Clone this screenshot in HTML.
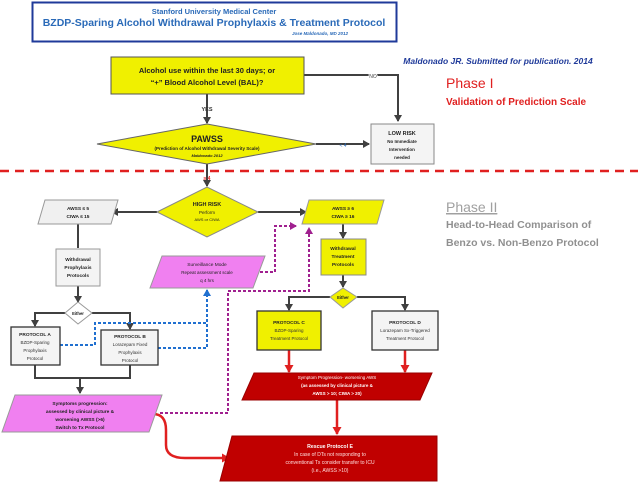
<!DOCTYPE html>
<html><head><meta charset="utf-8"><style>
html,body{margin:0;padding:0;background:#fff;}
svg{display:block;font-family:"Liberation Sans",sans-serif;}
.t{font-weight:bold;text-anchor:middle;}
</style></head><body>
<svg width="638" height="483" viewBox="0 0 638 483" xmlns="http://www.w3.org/2000/svg">
<defs>
<marker id="ag" markerWidth="8" markerHeight="8" refX="6" refY="4" orient="auto" markerUnits="userSpaceOnUse"><path d="M0,0 L7,4 L0,8 z" fill="#404040"/></marker>
<marker id="ar" markerWidth="9" markerHeight="9" refX="7" refY="4.5" orient="auto" markerUnits="userSpaceOnUse"><path d="M0,0 L8,4.5 L0,9 z" fill="#e02020"/></marker>
<marker id="ab" markerWidth="8" markerHeight="8" refX="6" refY="4" orient="auto" markerUnits="userSpaceOnUse"><path d="M0,0 L7,4 L0,8 z" fill="#2070d0"/></marker>
<marker id="ap" markerWidth="8" markerHeight="8" refX="6" refY="4" orient="auto" markerUnits="userSpaceOnUse"><path d="M0,0 L7,4 L0,8 z" fill="#a0208f"/></marker>
</defs>
<!-- header -->
<rect x="32.5" y="2.5" width="364" height="39" fill="#fff" stroke="#1f3a9a" stroke-width="2"/>
<text x="214" y="14" class="t" font-size="7.5" fill="#2a6ab8">Stanford University Medical Center</text>
<text x="214" y="26" class="t" font-size="10.5" fill="#2a6ab8">BZDP-Sparing Alcohol Withdrawal Prophylaxis &amp; Treatment Protocol</text>
<text x="320" y="35" class="t" font-size="4.5" fill="#2a6ab8" font-style="italic">Jose Maldonado, MD 2012</text>
<text x="498" y="64" class="t" font-size="8.5" fill="#1f3a9a" font-style="italic">Maldonado JR. Submitted for publication. 2014</text>
<text x="446" y="88" font-size="14" fill="#e02020">Phase I</text>
<text x="446" y="105" font-size="10" fill="#e02020" font-weight="bold">Validation of Prediction Scale</text>
<text x="446" y="212" font-size="14" fill="#a0a0a0" text-decoration="underline">Phase II</text>
<line x1="446" y1="214" x2="497" y2="214" stroke="#a0a0a0" stroke-width="1"/>
<text x="446" y="228" font-size="10.5" fill="#909090" font-weight="bold">Head-to-Head Comparison of</text>
<text x="446" y="246" font-size="10.5" fill="#909090" font-weight="bold">Benzo vs. Non-Benzo Protocol</text>
<!-- red dashed -->
<line x1="0" y1="171" x2="638" y2="171" stroke="#e02020" stroke-width="2.5" stroke-dasharray="9,6"/>
<!-- gray lines -->
<g stroke="#404040" stroke-width="2" fill="none">
<polyline points="304,75 398,75 398,121" marker-end="url(#ag)"/>
<line x1="207" y1="94" x2="207" y2="123" marker-end="url(#ag)"/>
<line x1="316" y1="144" x2="369" y2="144" marker-end="url(#ag)"/>
<line x1="207" y1="164" x2="207" y2="186" marker-end="url(#ag)"/>
<line x1="157" y1="212" x2="112" y2="212" marker-end="url(#ag)"/>
<line x1="258" y1="212" x2="306" y2="212" marker-end="url(#ag)"/>
<line x1="78" y1="224" x2="78" y2="248"/>
<line x1="78" y1="286" x2="78" y2="302" marker-end="url(#ag)"/>
<polyline points="65,313 35,313 35,326" marker-end="url(#ag)"/>
<polyline points="92,313 130,313 130,329" marker-end="url(#ag)"/>
<polyline points="35,365 35,378 130,378 130,365"/>
<line x1="80" y1="378" x2="80" y2="393" marker-end="url(#ag)"/>
<line x1="343" y1="224" x2="343" y2="238" marker-end="url(#ag)"/>
<line x1="343" y1="275" x2="343" y2="287" marker-end="url(#ag)"/>
<polyline points="330,297 289,297 289,310" marker-end="url(#ag)"/>
<polyline points="357,297 405,297 405,310" marker-end="url(#ag)"/>
</g>
<text x="373" y="78" font-size="5" fill="#404040" text-anchor="middle" style="paint-order:stroke" stroke="#fff" stroke-width="2">NO</text>
<text x="207" y="111" class="t" font-size="5.5" fill="#333">YES</text>
<text x="343" y="147" font-size="5" fill="#2a6ab8" text-anchor="middle">&lt; 4</text>
<text x="207" y="180" class="t" font-size="5" fill="#e02020">≥ 4</text>
<!-- red arrows -->
<g stroke="#e02020" stroke-width="2.5" fill="none">
<line x1="289" y1="350" x2="289" y2="372" marker-end="url(#ar)"/>
<line x1="405" y1="350" x2="405" y2="372" marker-end="url(#ar)"/>
<line x1="337" y1="400" x2="337" y2="434" marker-end="url(#ar)"/>
<path d="M153,414 Q166,414 166,430 L166,445 Q166,458 185,458 L229,458" marker-end="url(#ar)"/>
</g>
<!-- blue dotted -->
<g stroke="#2070d0" stroke-width="2" fill="none" stroke-dasharray="3,2">
<polyline points="60,345 95,345 95,323 207,323 207,290" marker-end="url(#ab)"/>
<polyline points="158,348 207,348 207,323"/>
</g>
<!-- purple dotted -->
<g stroke="#a0208f" stroke-width="2" fill="none" stroke-dasharray="3,2">
<polyline points="260,272 275,272 275,226 296,226" marker-end="url(#ap)"/>
<polyline points="160,413 228,413 228,291 309,291 309,228" marker-end="url(#ap)"/>
</g>
<!-- shapes -->
<rect x="111" y="57" width="193" height="37" fill="#f0f000" stroke="#555" stroke-width="1"/>
<text x="207" y="73" class="t" font-size="7.5" fill="#222">Alcohol use within the last 30 days; or</text>
<text x="207" y="85" class="t" font-size="7.5" fill="#222">“+” Blood Alcohol Level (BAL)?</text>
<polygon points="97,144 207,124 316,144 207,164" fill="#f0f000" stroke="#666"/>
<text x="207" y="142" class="t" font-size="9" fill="#222">PAWSS</text>
<text x="207" y="150" class="t" font-size="4.5" fill="#222">(Prediction of Alcohol Withdrawal Severity Scale)</text>
<text x="207" y="157" class="t" font-size="4" fill="#222" font-style="italic">Maldonado 2012</text>
<rect x="371" y="124" width="63" height="40" fill="#f4f4f4" stroke="#888"/>
<text x="402" y="135" class="t" font-size="5.5" fill="#222">LOW RISK</text>
<text x="402" y="143" class="t" font-size="4.5" fill="#222">No Immediate</text>
<text x="402" y="151" class="t" font-size="4.5" fill="#222">Intervention</text>
<text x="402" y="159" class="t" font-size="4.5" fill="#222">needed</text>
<polygon points="157,212 207,187 258,212 207,237" fill="#f0f000" stroke="#888"/>
<text x="207" y="206" class="t" font-size="5.5" fill="#222">HIGH RISK</text>
<text x="207" y="214" font-size="4.5" fill="#222" text-anchor="middle">Perform</text>
<text x="207" y="221" font-size="4" fill="#222" text-anchor="middle">AWS or CIWA</text>
<polygon points="45,200 118,200 111,224 38,224" fill="#f0f0f0" stroke="#999"/>
<text x="78" y="210" class="t" font-size="4.8" fill="#222">AWSS ≤ 5</text>
<text x="78" y="218" class="t" font-size="4.8" fill="#222">CIWA ≤ 15</text>
<polygon points="309,200 384,200 377,224 302,224" fill="#f0f000" stroke="#999"/>
<text x="343" y="210" class="t" font-size="4.8" fill="#222">AWSS ≥ 6</text>
<text x="343" y="218" class="t" font-size="4.8" fill="#222">CIWA ≥ 16</text>
<rect x="56" y="249" width="44" height="37" fill="#f4f4f4" stroke="#999"/>
<text x="78" y="261" class="t" font-size="4.8" fill="#222">Withdrawal</text>
<text x="78" y="269" class="t" font-size="4.8" fill="#222">Prophylaxis</text>
<text x="78" y="277" class="t" font-size="4.8" fill="#222">Protocols</text>
<polygon points="65,313 78,302 92,313 78,324" fill="#fff" stroke="#999"/>
<text x="78" y="315" class="t" font-size="4.2" fill="#222">Either</text>
<rect x="11" y="327" width="49" height="38" fill="#f4f4f4" stroke="#333" stroke-width="1.3"/>
<text x="35" y="336" class="t" font-size="4.8" fill="#222">PROTOCOL A</text>
<text x="35" y="344" font-size="4.5" fill="#333" text-anchor="middle">BZDP-Sparing</text>
<text x="35" y="352" font-size="4.5" fill="#333" text-anchor="middle">Prophylaxis</text>
<text x="35" y="360" font-size="4.5" fill="#333" text-anchor="middle">Protocol</text>
<rect x="101" y="330" width="57" height="35" fill="#f4f4f4" stroke="#333" stroke-width="1.3"/>
<text x="130" y="338" class="t" font-size="4.8" fill="#222">PROTOCOL B</text>
<text x="130" y="346" font-size="4.5" fill="#333" text-anchor="middle">Lorazepam Fixed</text>
<text x="130" y="354" font-size="4.5" fill="#333" text-anchor="middle">Prophylaxis</text>
<text x="130" y="362" font-size="4.5" fill="#333" text-anchor="middle">Protocol</text>
<polygon points="162,256 265,256 253,288 150,288" fill="#f080f0" stroke="#999"/>
<text x="207" y="266" font-size="4.8" fill="#222" text-anchor="middle">Surveillance Mode</text>
<text x="207" y="274" font-size="4.5" fill="#222" text-anchor="middle">Repeat assessment scale</text>
<text x="207" y="282" font-size="4.5" fill="#222" text-anchor="middle">q 4 hrs</text>
<polygon points="15,395 162,395 149,432 2,432" fill="#f080f0" stroke="#999"/>
<text x="80" y="405" class="t" font-size="4.8" fill="#222">Symptoms progression:</text>
<text x="80" y="413" class="t" font-size="4.8" fill="#222">assessed by clinical picture &amp;</text>
<text x="80" y="421" class="t" font-size="4.8" fill="#222">worsening AWSS (&gt;6)</text>
<text x="80" y="429" class="t" font-size="4.8" fill="#222">Switch to Tx Protocol</text>
<rect x="321" y="239" width="45" height="36" fill="#f0f000" stroke="#888"/>
<text x="343" y="250" class="t" font-size="4.8" fill="#222">Withdrawal</text>
<text x="343" y="258" class="t" font-size="4.8" fill="#222">Treatment</text>
<text x="343" y="266" class="t" font-size="4.8" fill="#222">Protocols</text>
<polygon points="330,297 343,288 357,297 343,308" fill="#f0f000" stroke="#999"/>
<text x="343" y="299" class="t" font-size="4.2" fill="#222">Either</text>
<rect x="257" y="311" width="64" height="39" fill="#f0f000" stroke="#333" stroke-width="1.3"/>
<text x="289" y="324" class="t" font-size="4.8" fill="#222">PROTOCOL C</text>
<text x="289" y="332" font-size="4.5" fill="#333" text-anchor="middle">BZDP-Sparing</text>
<text x="289" y="340" font-size="4.5" fill="#333" text-anchor="middle">Treatment Protocol</text>
<rect x="372" y="311" width="66" height="39" fill="#f4f4f4" stroke="#333" stroke-width="1.3"/>
<text x="405" y="324" class="t" font-size="4.8" fill="#222">PROTOCOL D</text>
<text x="405" y="332" font-size="4.5" fill="#333" text-anchor="middle">Lorazepam Sx-Triggered</text>
<text x="405" y="340" font-size="4.5" fill="#333" text-anchor="middle">Treatment Protocol</text>
<polygon points="254,373 432,373 420,400 242,400" fill="#c00000" stroke="#900"/>
<text x="337" y="379" font-size="4.5" fill="#fff" text-anchor="middle">Symptom Progression- worsening AWS</text>
<text x="337" y="387" class="t" font-size="4.5" fill="#fff">(as assessed by clinical picture &amp;</text>
<text x="337" y="395" class="t" font-size="4.5" fill="#fff">AWSS &gt; 10; CIWA &gt; 20)</text>
<polygon points="232,436 437,436 437,481 220,481" fill="#c00000" stroke="#900"/>
<text x="330" y="448" class="t" font-size="5.2" fill="#fff">Rescue Protocol E</text>
<text x="330" y="456" font-size="5" fill="#fdd" text-anchor="middle">In case of DTs not responding to</text>
<text x="330" y="464" font-size="5" fill="#fdd" text-anchor="middle">conventional Tx consider transfer to ICU</text>
<text x="330" y="472" font-size="5" fill="#fdd" text-anchor="middle">(i.e., AWSS &gt;10)</text>
</svg>
</body></html>
